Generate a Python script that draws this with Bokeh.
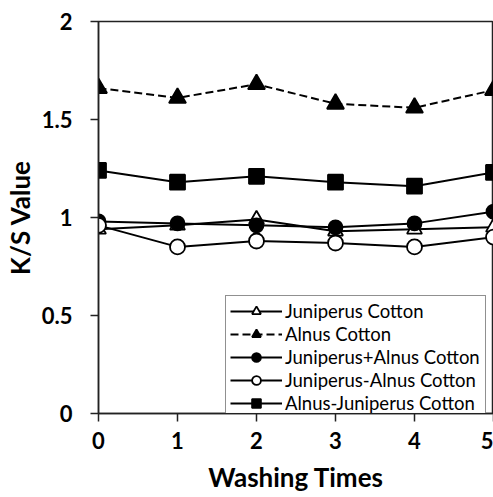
from bokeh.plotting import figure
from bokeh.models import Range1d, FixedTicker, Legend, LegendItem
from bokeh.embed import file_html
from bokeh.resources import INLINE

washing = [0, 1, 2, 3, 4, 5]
juniperus = [0.94, 0.96, 0.99, 0.93, 0.94, 0.95]
alnus = [1.66, 1.61, 1.68, 1.58, 1.56, 1.65]
jun_plus_aln = [0.98, 0.97, 0.96, 0.95, 0.97, 1.03]
jun_minus_aln = [0.96, 0.85, 0.88, 0.87, 0.85, 0.90]
aln_minus_jun = [1.24, 1.18, 1.21, 1.18, 1.16, 1.23]
y_ticks = [0, 0.5, 1, 1.5, 2]
y_labels = ["0", "0.5", "1", "1.5", "2"]
names = ["Juniperus Cotton", "Alnus Cotton", "Juniperus+Alnus Cotton",
         "Juniperus-Alnus Cotton", "Alnus-Juniperus Cotton"]

FONT = "Lato"
p = figure(width=493, height=497, output_backend="svg", toolbar_location=None,
           x_range=Range1d(0, 5), y_range=Range1d(0, 2),
           min_border_left=96, min_border_right=0, min_border_top=21, min_border_bottom=84)
p.xgrid.visible = False
p.ygrid.visible = False
p.outline_line_color = "#222222"
p.outline_line_width = 1.5

for ax in (p.xaxis[0], p.yaxis[0]):
    ax.axis_line_color = "#222222"
    ax.axis_line_width = 1.5
    ax.major_tick_line_color = "#222222"
    ax.major_tick_line_width = 1.5
    ax.major_tick_in = 0
    ax.major_tick_out = 8
    ax.minor_tick_line_color = None
    ax.major_label_text_font = FONT
    ax.major_label_text_font_style = "bold"
    ax.major_label_text_font_size = "22px"
    ax.major_label_text_color = "black"
    ax.axis_label_text_font = FONT
    ax.axis_label_text_font_style = "bold"
    ax.axis_label_text_font_size = "26px"
    ax.axis_label_text_color = "black"

p.xaxis.ticker = FixedTicker(ticks=washing)
p.yaxis.ticker = FixedTicker(ticks=y_ticks)
p.yaxis.major_label_overrides = {t: l for t, l in zip(y_ticks, y_labels)}
p.xaxis.axis_label = "Washing Times"
p.yaxis.axis_label = "K/S Value"
p.xaxis.major_label_standoff = 10
p.yaxis.major_label_standoff = 18
p.xaxis.axis_label_standoff = 9
p.yaxis.axis_label_standoff = 3

items = []
specs = [
    (juniperus, "triangle", "white", 15, "solid"),
    (alnus, "triangle", "black", 17, "8 4"),
    (jun_plus_aln, "circle", "black", 14, "solid"),
    (jun_minus_aln, "circle", "white", 15, "solid"),
    (aln_minus_jun, "square", "black", 15, "solid"),
]
for name, (ys, mk, fill, sz, dash) in zip(names, specs):
    ln = p.line(washing, ys, line_color="black", line_width=2, line_dash=dash)
    sc = p.scatter(washing, ys, marker=mk, size=sz, fill_color=fill,
                   line_color="black", line_width=1.8)
    items.append(LegendItem(label=name, renderers=[ln, sc]))

legend = Legend(items=items, location=(127, -6))
legend.label_text_font = FONT
legend.label_text_font_size = "18.5px"
legend.label_text_color = "black"
legend.glyph_width = 52
legend.glyph_height = 22
legend.label_width = 196
legend.spacing = 1
legend.padding = 4
legend.margin = 0
legend.label_standoff = 3
legend.border_line_color = "#222222"
legend.border_line_width = 1.5
p.add_layout(legend, "center")

open("out.html", "w").write(file_html(p, INLINE))
